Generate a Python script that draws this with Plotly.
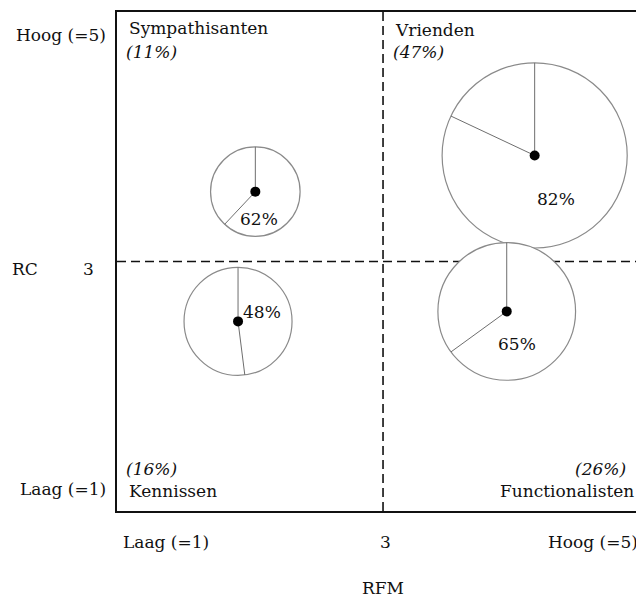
import math
import plotly.graph_objects as go

# ---------------- data ----------------
segments = ["Sympathisanten", "Vrienden", "Kennissen", "Functionalisten"]
share_pct = [11, 47, 16, 26]          # segment share (circle area)
inner_pct = [62, 82, 48, 65]          # pie percentage
rfm = [2.04, 4.14, 1.91, 3.93]        # x position (RFM)
rc = [3.56, 3.85, 2.52, 2.60]         # y position (RC)

x_tick_vals = [1, 3, 5]
x_tick_labels = ["Laag (=1)", "3", "Hoog (=5)"]
y_tick_vals = [1, 3, 5]
y_tick_labels = ["Laag (=1)", "3", "Hoog (=5)"]
x_title = "RFM"
y_title = "RC"

# ---------------- layout geometry ----------------
# page body has an 8px margin, so the figure is sized to the visible window
W, H = 636, 592
ML, MR, MT, MB = 109, 0, 4, 89
XR = [1, 4.962]
YR = [1, 5]
plot_w = W - ML - MR
plot_h = H - MT - MB
px_per_x = plot_w / (XR[1] - XR[0])
px_per_y = plot_h / (YR[1] - YR[0])
K = 13.5  # px radius per sqrt(share)

FONT = "DejaVu Serif"
FS = 17
fig = go.Figure()

CIRC = "#8a8a8a"
for name, sh, p, x, y in zip(segments, share_pct, inner_pct, rfm, rc):
    r = K * math.sqrt(sh)
    # circle
    fig.add_trace(go.Scatter(x=[x], y=[y], mode="markers",
                             marker=dict(size=2 * r, color="white",
                                         line=dict(color=CIRC, width=1.2)),
                             hoverinfo="skip", showlegend=False))
    # radial lines: 12 o'clock and at p% clockwise
    ang = 2 * math.pi * p / 100
    ex = x + r * math.sin(ang) / px_per_x
    ey = y + r * math.cos(ang) / px_per_y
    fig.add_trace(go.Scatter(x=[x, x, ex], y=[y + r / px_per_y, y, ey], mode="lines",
                             line=dict(color="#6e6e6e", width=1),
                             hoverinfo="skip", showlegend=False))
    # center dot
    fig.add_trace(go.Scatter(x=[x], y=[y], mode="markers",
                             marker=dict(size=10, color="black"),
                             hoverinfo="skip", showlegend=False))

# percentage labels
pct_offsets = {"Sympathisanten": (4, -27), "Vrienden": (21, -44),
               "Kennissen": (24, 9), "Functionalisten": (10, -33)}
for name, p, x, y in zip(segments, inner_pct, rfm, rc):
    dx, dy = pct_offsets[name]
    fig.add_annotation(x=x, y=y, xref="x", yref="y", text=f"{p}%",
                       showarrow=False, xshift=dx, yshift=dy,
                       font=dict(family=FONT, size=FS, color="#111"))

# quadrant lines
fig.add_shape(type="line", x0=3, x1=3, y0=YR[0], y1=YR[1], xref="x", yref="y",
              line=dict(color="#111", width=1.6, dash="9px,5px"), layer="below")
fig.add_shape(type="line", x0=XR[0], x1=XR[1], y0=3, y1=3, xref="x", yref="y",
              line=dict(color="#111", width=1.6, dash="9px,5px"), layer="below")

# quadrant names and shares
seg_share = dict(zip(segments, share_pct))
quad = [
    ("Sympathisanten", 0.0, "left", 1, 10, -16, 7, -40),
    ("Vrienden", 3.0, "left", 1, 10, -18, 8, -40),
    ("Kennissen", 0.0, "left", 0, 10, 20, 7, 42),
    ("Functionalisten", 5.0, "right", 0, -8, 20, -16, 42),
]
for name, xpos, anchor, ytop, nx, ny, sx, sy in quad:
    if xpos == 5.0:
        xr_, xv = "paper", 1
    elif xpos == 0.0:
        xr_, xv = "paper", 0
    else:
        xr_, xv = "x", xpos
    fig.add_annotation(x=xv, y=ytop, xref=xr_, yref="paper", text=name,
                       showarrow=False, xanchor=anchor, yanchor="middle",
                       xshift=nx, yshift=ny,
                       font=dict(family=FONT, size=FS, color="#111"))
    fig.add_annotation(x=xv, y=ytop, xref=xr_, yref="paper",
                       text=f"<i>({seg_share[name]}%)</i>",
                       showarrow=False, xanchor=anchor, yanchor="middle",
                       xshift=sx, yshift=sy,
                       font=dict(family=FONT, size=FS, color="#111"))

# x tick labels
for v, t in zip(x_tick_vals, x_tick_labels):
    if v == 1:
        kw = dict(x=0, xref="paper", xanchor="left", xshift=4)
    elif v == 5:
        kw = dict(x=1, xref="paper", xanchor="right", xshift=-4)
    else:
        kw = dict(x=v, xref="x", xanchor="center", xshift=2)
    fig.add_annotation(y=0, yref="paper", yanchor="middle", yshift=-31, text=t,
                       showarrow=False, font=dict(family=FONT, size=FS, color="#111"), **kw)

# y tick labels
for v, t in zip(y_tick_vals, y_tick_labels):
    ys = {1: 22, 3: -7, 5: -23}[v]
    xs = -21 if v == 3 else -9
    fig.add_annotation(x=0, xref="paper", y=v, yref="y", yanchor="middle",
                       xanchor="right", xshift=xs, yshift=ys, text=t,
                       showarrow=False, font=dict(family=FONT, size=FS, color="#111"))

# axis titles
fig.add_annotation(x=0, xref="paper", y=3, yref="y", xanchor="left", yanchor="middle",
                   xshift=-107, yshift=-7, text=y_title, showarrow=False,
                   font=dict(family=FONT, size=FS, color="#111"))
fig.add_annotation(x=3, xref="x", y=0, yref="paper", xanchor="center", yanchor="middle",
                   yshift=-77, text=x_title, showarrow=False,
                   font=dict(family=FONT, size=FS, color="#111"))

fig.update_xaxes(range=XR, showgrid=False, zeroline=False, showticklabels=False,
                 ticks="", showline=True, linecolor="#111", linewidth=1.5, mirror=True)
fig.update_yaxes(range=YR, showgrid=False, zeroline=False, showticklabels=False,
                 ticks="", showline=True, linecolor="#111", linewidth=1.5, mirror=False)

fig.update_layout(width=W, height=H, margin=dict(l=ML, r=MR, t=MT, b=MB),
                  paper_bgcolor="white", plot_bgcolor="white", showlegend=False)

fig.write_html("out.html")
